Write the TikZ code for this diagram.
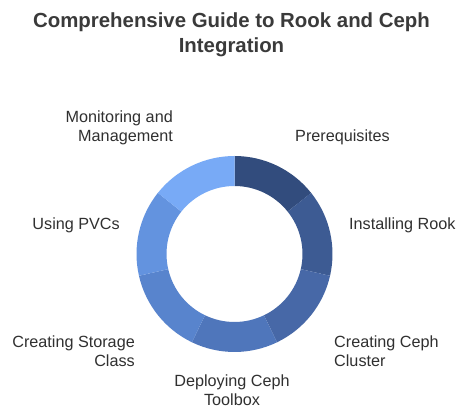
\documentclass[tikz,border=0pt]{standalone}
\usepackage{fontspec}
\setmainfont{Liberation Sans}
\definecolor{segA}{HTML}{324C7D}
\definecolor{segB}{HTML}{3D5B93}
\definecolor{segC}{HTML}{4768A7}
\definecolor{segD}{HTML}{4F76BB}
\definecolor{segE}{HTML}{5884CD}
\definecolor{segF}{HTML}{6393DF}
\definecolor{segG}{HTML}{78AAF6}
\definecolor{txt}{HTML}{303030}
\definecolor{ttl}{HTML}{3A3A3A}
\tikzset{
  lbl/.style={inner sep=0pt, font=\fontsize{16.2}{19}\selectfont, text=txt},
  ttlstyle/.style={inner sep=0pt, font=\fontsize{20.4}{25}\selectfont\bfseries, text=ttl},
}
\begin{document}
\begin{tikzpicture}[x=1pt,y=1pt]
\useasboundingbox (0,0) rectangle (474,420);
\fill[white] (0,0) rectangle (474,420);
% title
\node[ttlstyle, anchor=base] (t1) at (231.5,392) {Comprehensive Guide to Rook and Ceph};
\node[ttlstyle, anchor=base] (t2) at (231.5,367) {Integration};
% ring
\coordinate (c) at (234.5,166);
\foreach \i/\col in {0/segA,1/segB,2/segC,3/segD,4/segE,5/segF,6/segG}{
  \pgfmathsetmacro{\aa}{90-\i*360/7}
  \pgfmathsetmacro{\ab}{90-(\i+1)*360/7}
  \fill[\col, shift={(c)}] (\aa:98) arc[start angle=\aa, end angle=\ab, radius=98]
     -- (\ab:68) arc[start angle=\ab, end angle=\aa, radius=68] -- cycle;
}
% labels
\node[lbl, anchor=base east] (m1) at (173,297.5) {Monitoring and};
\node[lbl, anchor=base east] (m2) at (173,278.5) {Management};
\node[lbl, anchor=base west] (p1) at (295,278.5) {Prerequisites};
\node[lbl, anchor=base west] (i1) at (349,190.5) {Installing Rook};
\node[lbl, anchor=base east] (u1) at (120,190.5) {Using PVCs};
\node[lbl, anchor=base east] (s1) at (135,72.5) {Creating Storage};
\node[lbl, anchor=base east] (s2) at (135,53.5) {Class};
\node[lbl, anchor=base west] (k1) at (334,72.5) {Creating Ceph};
\node[lbl, anchor=base west] (k2) at (334,53.5) {Cluster};
\node[lbl, anchor=base] (d1) at (232,33.5) {Deploying Ceph};
\node[lbl, anchor=base] (d2) at (232,14.5) {Toolbox};
\end{tikzpicture}
\end{document}
